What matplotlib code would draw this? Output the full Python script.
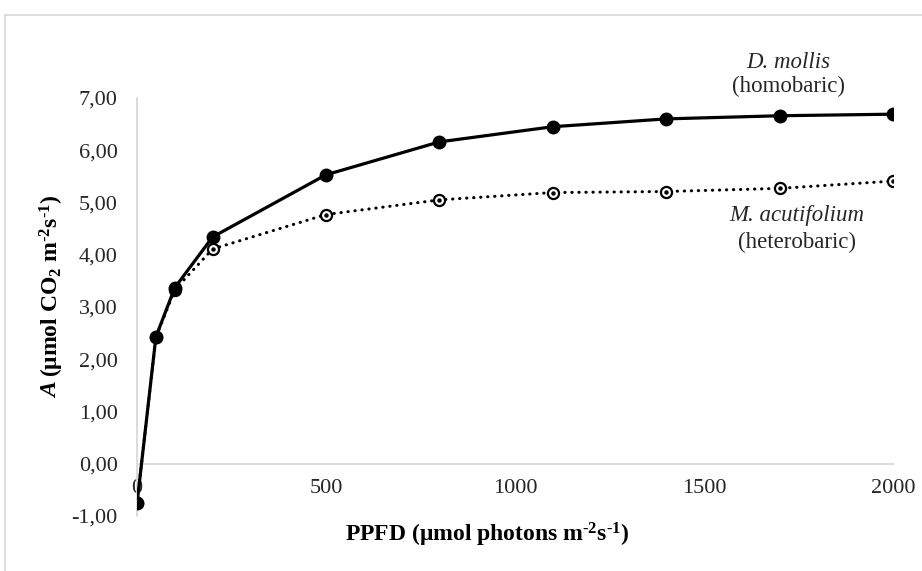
import matplotlib

matplotlib.use("Agg")

import matplotlib.pyplot as plt
from matplotlib.lines import Line2D

plt.rcParams["font.family"] = ["Liberation Serif", "DejaVu Serif"]
plt.rcParams["mathtext.fontset"] = "custom"
plt.rcParams["mathtext.rm"] = "Liberation Serif"
plt.rcParams["mathtext.bf"] = "Liberation Serif:weight=bold"
plt.rcParams["mathtext.it"] = "Liberation Serif:style=italic"

# light response curves
ppfd = [0, 50, 100, 200, 500, 800, 1100, 1400, 1700, 2000]
d_mollis = [-0.76, 2.43, 3.37, 4.34, 5.53, 6.16, 6.45, 6.60, 6.66, 6.69]
m_acutifolium = [-0.76, 2.42, 3.33, 4.11, 4.77, 5.05, 5.19, 5.21, 5.27, 5.41]

x_ticks = [0, 500, 1000, 1500, 2000]
y_ticks = [-1, 0, 1, 2, 3, 4, 5, 6, 7]
y_tick_labels = ["-1,00", "0,00", "1,00", "2,00", "3,00", "4,00", "5,00", "6,00", "7,00"]

fig = plt.figure(figsize=(9.22, 5.71), dpi=100)
ax = fig.add_axes([0.1486, 0.0963, 0.8199, 0.7321])

# figure frame (Excel chart area)
frame_color = "#d9d9d9"
fig.add_artist(Line2D([5 / 922, 5 / 922], [0, 1 - 15 / 571], transform=fig.transFigure,
                      color=frame_color, lw=1.2))
fig.add_artist(Line2D([5 / 922, 1], [1 - 15 / 571, 1 - 15 / 571], transform=fig.transFigure,
                      color=frame_color, lw=1.2))

ax.plot(ppfd, m_acutifolium, color="black", lw=2.2, linestyle=(0, (0.1, 2.2)),
        dash_capstyle="round", marker="o", markersize=8, markerfacecolor="white",
        markeredgecolor="black", markeredgewidth=1.6, zorder=3)
ax.plot(ppfd, m_acutifolium, linestyle="none", marker="o", markersize=2.2,
        color="black", zorder=4)
ax.plot(ppfd, d_mollis, color="black", lw=2.3, marker="o", markersize=9,
        markerfacecolor="black", markeredgecolor="black", zorder=5)

ax.set_xlim(0, 2000)
ax.set_ylim(-1, 7)
ax.set_xticks(x_ticks)
ax.set_yticks(y_ticks)
ax.set_yticklabels(y_tick_labels)

for side in ["top", "right"]:
    ax.spines[side].set_visible(False)
ax.spines["left"].set_color(frame_color)
ax.spines["left"].set_linewidth(1.3)
ax.spines["bottom"].set_position(("data", 0))
ax.spines["bottom"].set_color(frame_color)
ax.spines["bottom"].set_linewidth(1.3)
ax.tick_params(axis="both", length=0, labelsize=16, colors="#262626")
ax.tick_params(axis="y", pad=14)
ax.tick_params(axis="x", pad=11)
ax.patch.set_alpha(0)

hy = "\u2010"
unit_sup = r"m$^{\mathbf{" + hy + r"2}}$s$^{\mathbf{" + hy + r"1}}$)"
fig.text(487 / 922, 1 - 535 / 571, r"PPFD ($\mathbf{\mu}$mol photons " + unit_sup,
         ha="center", va="center", fontsize=17, fontweight="bold")

# y label: bold italic "A" as its own text, the rest below/after it
ylab = fig.text(52 / 922, 1 - 286 / 571,
                r"($\mathbf{\mu}$mol CO$_{\mathbf{2}}$ " + unit_sup,
                ha="center", va="center", rotation=90, fontsize=17, fontweight="bold")
fig.canvas.draw()
bb = ylab.get_window_extent().transformed(fig.transFigure.inverted())
fig.text(52 / 922, bb.y0 - 5 / 571, "A", ha="center", va="top", rotation=90,
         fontsize=17, fontweight="bold", style="italic")

fig.text(788 / 922, 1 - 63 / 571, "D. mollis", style="italic", ha="center", va="center",
         fontsize=16.5, color="#262626")
fig.text(788 / 922, 1 - 86 / 571, "(homobaric)", ha="center", va="center",
         fontsize=16.5, color="#262626")
fig.text(797 / 922, 1 - 215 / 571, "M. acutifolium", style="italic", ha="center", va="center",
         fontsize=16.5, color="#262626")
fig.text(797 / 922, 1 - 242 / 571, "(heterobaric)", ha="center", va="center",
         fontsize=16.5, color="#262626")

fig.savefig("out.png", dpi=100)
plt.close(fig)
